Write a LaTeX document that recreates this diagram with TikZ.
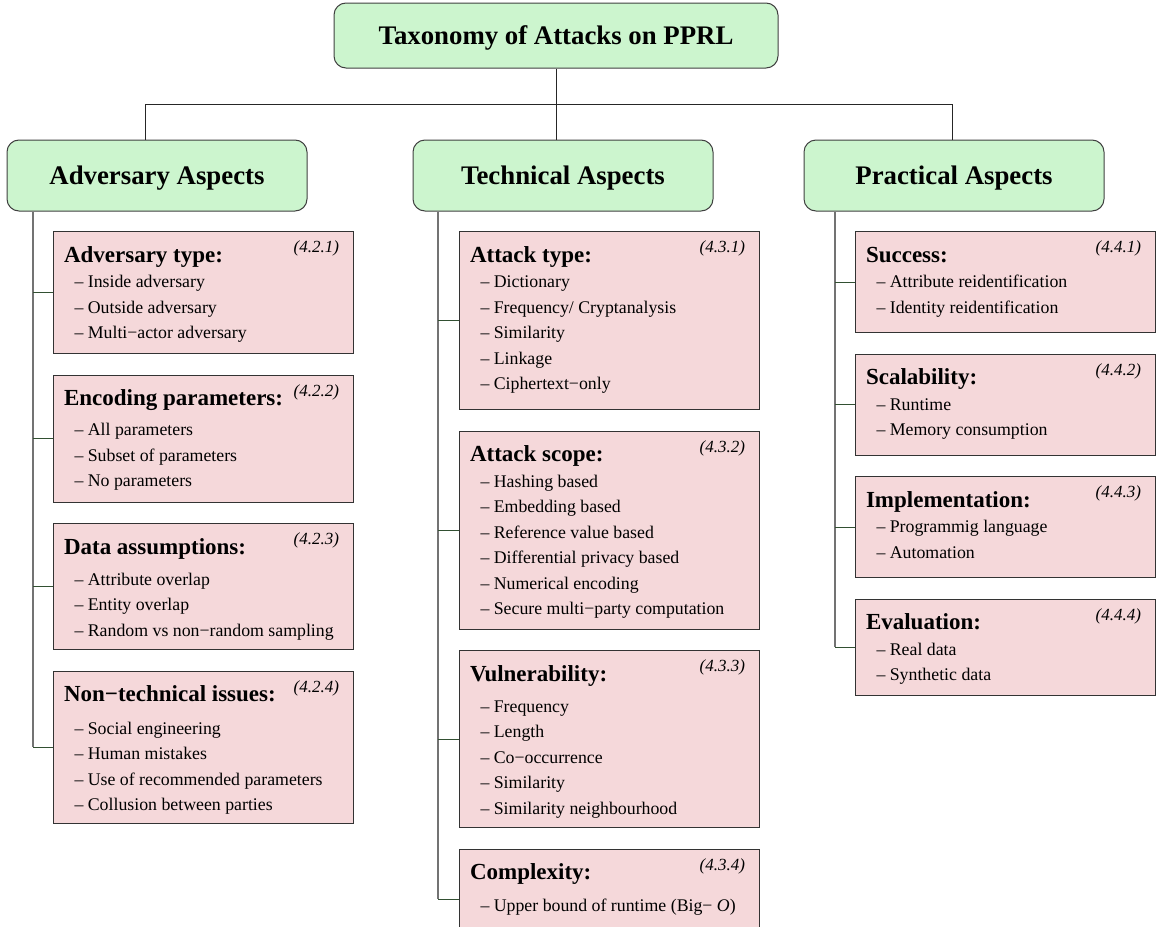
\documentclass[tikz,border=0pt]{standalone}
\usepackage{fontspec}
\setmainfont{Liberation Serif}
\usetikzlibrary{positioning}
\definecolor{headgreen}{RGB}{204,245,206}
\definecolor{itempink}{RGB}{245,216,218}
\definecolor{branchgreen}{RGB}{50,80,50}
\tikzset{toplevel/.style={draw=black!75,line width=1pt,fill=headgreen,rounded corners=12pt,minimum width=444pt,minimum height=65pt,font=\fontsize{26.8}{30}\selectfont\bfseries,text height=17.5pt,text depth=0pt},
aspect/.style={draw=black!75,line width=1pt,fill=headgreen,rounded corners=12pt,minimum width=300pt,minimum height=71pt,font=\fontsize{26.8}{30}\selectfont\bfseries,text height=17.6pt,text depth=0pt},
itembox/.style={draw=black!80,line width=1pt,fill=itempink,inner sep=0pt},
busline/.style={draw=black!85,line width=0.8pt},
trunk/.style={draw=black!55,line width=1.3pt},
branch/.style={draw=branchgreen,line width=1pt}}
% box text: height, extra gap, title, label, entries
\newcommand{\boxtext}[5]{\parbox[c][#1][t]{300pt}{\fontsize{17.8}{25.5}\selectfont
\rule{0pt}{30.5pt}\hspace*{10.5pt}{\fontsize{23}{25.5}\selectfont\bfseries #3}\hfill\raisebox{9.5pt}{\fontsize{17}{18}\selectfont\itshape (#4)}\hspace*{14.5pt}\par
\vspace{#2}#5}}
\newcommand{\entry}[1]{\hspace*{21pt}-- #1\par}

\begin{document}
\begin{tikzpicture}[x=1pt,y=-1pt]
\useasboundingbox (0,0) rectangle (1156,926);
\node (root) [toplevel] at (556,35.5) {Taxonomy of Attacks on PPRL};
\node (adv) [aspect] at (157,175.5) {Adversary Aspects};
\node (tech) [aspect] at (563,175.5) {Technical Aspects};
\node (prac) [aspect] at (954,175.5) {Practical Aspects};
\coordinate (fork) at (556,104);
\draw[busline] (root.south) -- (fork);
\draw[busline] (fork) -| ([xshift=-12pt]adv.north);
\draw[busline] (fork) -- (fork |- tech.north);
\draw[busline] (fork) -| ([xshift=-2pt]prac.north);

% adversary aspects
\node (adv1) [itembox,anchor=north west] at (53,231) {\boxtext{122pt}{0pt}{Adversary type:}{4.2.1}{\entry{Inside adversary}\entry{Outside adversary}\entry{Multi−actor adversary}}};
\node (adv2) [itembox,below=20.5pt of adv1] {\boxtext{127pt}{4.5pt}{Encoding parameters:}{4.2.2}{\entry{All parameters}\entry{Subset of parameters}\entry{No parameters}}};
\node (adv3) [itembox,below=20.5pt of adv2] {\boxtext{126pt}{5.5pt}{Data assumptions:}{4.2.3}{\entry{Attribute overlap}\entry{Entity overlap}\entry{Random vs non−random sampling}}};
\node (adv4) [itembox,below=20.5pt of adv3] {\boxtext{152pt}{7pt}{Non−technical issues:}{4.2.4}{\entry{Social engineering}\entry{Human mistakes}\entry{Use of recommended parameters}\entry{Collusion between parties}}};

% technical aspects
\node (tech1) [itembox,anchor=north west] at (459,231) {\boxtext{178pt}{0pt}{Attack type:}{4.3.1}{\entry{Dictionary}\entry{Frequency/ Cryptanalysis}\entry{Similarity}\entry{Linkage}\entry{Ciphertext−only}}};
\node (tech2) [itembox,below=20.5pt of tech1] {\boxtext{198pt}{0pt}{Attack scope:}{4.3.2}{\entry{Hashing based}\entry{Embedding based}\entry{Reference value based}\entry{Differential privacy based}\entry{Numerical encoding}\entry{Secure multi−party computation}}};
\node (tech3) [itembox,below=20.5pt of tech2] {\boxtext{177pt}{5.5pt}{Vulnerability:}{4.3.3}{\entry{Frequency}\entry{Length}\entry{Co−occurrence}\entry{Similarity}\entry{Similarity neighbourhood}}};
\node (tech4) [itembox,below=20.5pt of tech3] {\boxtext{100pt}{6.5pt}{Complexity:}{4.3.4}{\entry{Upper bound of runtime (Big− \textit{O})}}};

% practical aspects
\node (prac1) [itembox,anchor=north west] at (855,231) {\boxtext{101pt}{0pt}{Success:}{4.4.1}{\entry{Attribute reidentification}\entry{Identity reidentification}}};
\node (prac2) [itembox,below=20.5pt of prac1] {\boxtext{101pt}{0pt}{Scalability:}{4.4.2}{\entry{Runtime}\entry{Memory consumption}}};
\node (prac3) [itembox,below=20.5pt of prac2] {\boxtext{101pt}{0pt}{Implementation:}{4.4.3}{\entry{Programmig language}\entry{Automation}}};
\node (prac4) [itembox,below=20.5pt of prac3] {\boxtext{96pt}{0pt}{Evaluation:}{4.4.4}{\entry{Real data}\entry{Synthetic data}}};

% trunks and branches
\coordinate (advt) at ([xshift=-20pt]adv1.north west);
\coordinate (techt) at ([xshift=-21pt]tech1.north west);
\coordinate (pract) at ([xshift=-20pt]prac1.north west);
\draw[trunk] (adv.south -| advt) -- (adv4.west -| advt);
\draw[trunk] (tech.south -| techt) -- (tech4.west -| techt);
\draw[trunk] (prac.south -| pract) -- (prac4.west -| pract);
\foreach \n in {1,...,4} {
  \draw[branch] (adv\n.west -| advt) -- (adv\n.west);
  \draw[branch] (tech\n.west -| techt) -- (tech\n.west);
  \draw[branch] (prac\n.west -| pract) -- (prac\n.west);
}
\end{tikzpicture}
\end{document}
